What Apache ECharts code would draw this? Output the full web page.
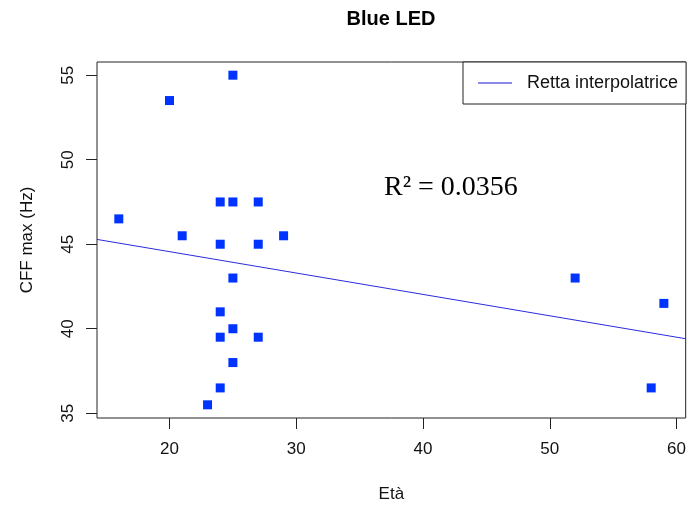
<!DOCTYPE html>
<html>
<head>
<meta charset="utf-8">
<script src="https://cdn.jsdelivr.net/npm/echarts@6/dist/echarts.min.js"></script>
<style>html,body{margin:0;padding:0;background:#fff}#c{width:689px;height:508px}</style>
</head>
<body>
<div id="c"></div>
<script>
// Data
const eta = [25, 20, 16, 24, 25, 27, 21, 29, 24, 27, 25, 24, 25, 24, 27, 25, 24, 23, 52, 58, 59];
const cff = [55, 53.5, 46.5, 47.5, 47.5, 47.5, 45.5, 45.5, 45, 45, 43, 41, 40, 39.5, 39.5, 38, 36.5, 35.5, 43, 36.5, 41.5];
const xTicks = [20, 30, 40, 50, 60];
const yTicks = [35, 40, 45, 50, 55];
const titleText = 'Blue LED';
const xName = 'Età';
const yName = 'CFF max (Hz)';
const legendName = 'Retta interpolatrice';
const r2Text = 'R² = 0.0356';

// R-style axis ranges (data range extended by 4%)
function rRange(arr) {
  const mn = Math.min(...arr), mx = Math.max(...arr), d = (mx - mn) * 0.04;
  return [mn - d, mx + d];
}
const xr = rRange(eta), yr = rRange(cff);

// least-squares fit
const n = eta.length;
const mx = eta.reduce((a, b) => a + b, 0) / n;
const my = cff.reduce((a, b) => a + b, 0) / n;
let sxy = 0, sxx = 0;
for (let i = 0; i < n; i++) { sxy += (eta[i] - mx) * (cff[i] - my); sxx += (eta[i] - mx) ** 2; }
const slope = sxy / sxx, intercept = my - slope * mx;
const fitLine = [[xr[0], intercept + slope * xr[0]], [xr[1], intercept + slope * xr[1]]];

const points = eta.map((x, i) => [x, cff[i]]);
const font = "'Liberation Sans', Arial, sans-serif";
const axisCol = '#222';

const chart = echarts.init(document.getElementById('c'), null, { renderer: 'canvas' });
chart.setOption({
  backgroundColor: '#fff',
  animation: false,
  title: {
    text: titleText, left: 391, top: 9, textAlign: 'center', padding: 0,
    textStyle: { fontFamily: font, fontWeight: 'bold', fontSize: 20, color: '#000' }
  },
  grid: { left: 97, top: 62, width: 589, height: 356, show: true, borderColor: axisCol, borderWidth: 1, backgroundColor: 'transparent' },
  legend: {
    data: [legendName], left: 463, top: 62,
    padding: [12, 8, 12, 15], borderColor: axisCol, borderWidth: 1, borderRadius: 0,
    backgroundColor: '#fff',
    icon: 'rect', itemWidth: 34, itemHeight: 2,
    itemStyle: { color: '#8a8ae8', borderWidth: 0 },
    textStyle: { fontFamily: font, fontSize: 18, color: '#111', padding: [0, 0, 0, 10] }
  },
  xAxis: {
    type: 'value', min: xr[0], max: xr[1],
    name: xName, nameLocation: 'middle', nameGap: 68,
    nameTextStyle: { fontFamily: font, fontSize: 17, color: '#111' },
    axisLine: { show: false },
    axisTick: { show: true, length: 11, customValues: xTicks, lineStyle: { color: axisCol } },
    axisLabel: { customValues: xTicks, margin: 23, fontFamily: font, fontSize: 17, color: '#111' },
    splitLine: { show: false }
  },
  yAxis: {
    type: 'value', min: yr[0], max: yr[1],
    name: yName, nameLocation: 'middle', nameGap: 61,
    nameTextStyle: { fontFamily: font, fontSize: 17, color: '#111' },
    axisLine: { show: false },
    axisTick: { show: true, length: 11, customValues: yTicks, lineStyle: { color: axisCol } },
    axisLabel: { customValues: yTicks, margin: 20, rotate: 90, fontFamily: font, fontSize: 17, color: '#111' },
    splitLine: { show: false }
  },
  graphic: [{
    type: 'text', x: 384, y: 188,
    style: { text: r2Text, fontFamily: "'Liberation Serif', 'Times New Roman', serif", fontSize: 28, fill: '#000', verticalAlign: 'middle', align: 'left' }
  }],
  series: [
    {
      type: 'scatter', data: points, symbol: 'rect', symbolSize: 9,
      itemStyle: { color: '#0033ff', opacity: 1 }, z: 2
    },
    {
      name: legendName, type: 'line', data: fitLine, symbol: 'none',
      lineStyle: { color: '#2b2be0', width: 1 }, itemStyle: { color: '#8a8ae8' }, z: 3
    }
  ]
});
</script>
</body>
</html>
